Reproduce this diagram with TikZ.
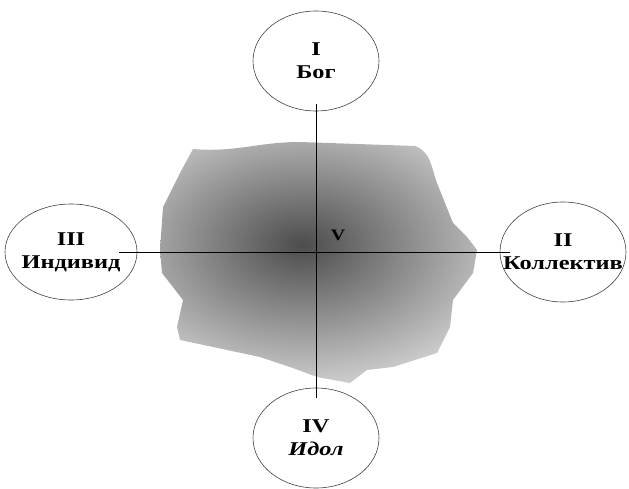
\documentclass[tikz,border=0pt]{standalone}
\usepackage{fontspec}
\setmainfont{Liberation Serif}
\newfontfamily\polefont[FakeStretch=1.25]{Liberation Serif}
\usetikzlibrary{shapes.geometric}
\tikzset{pole/.style={draw=black!75,line width=0.6pt,ellipse,minimum width=126pt,minimum height=100pt,inner xsep=-16pt,inner ysep=0pt,align=center,font=\polefont\bfseries\fontsize{19.5}{23}\selectfont}}

\begin{document}
\begin{tikzpicture}[x=1pt,y=-1pt]
\useasboundingbox (0,0) rectangle (629,489);
% shaded field
\begin{scope}
\clip (193,149) to[out=-5,in=180] (300,142) -- (415,146) to[out=-20,in=110] (437,183) -- (453,223) -- (467,237) -- (477,250) -- (473,273) -- (453,300) -- (450,327) -- (437,353) -- (393,367) -- (367,370) -- (350,383) -- (317,377) -- (290,367) -- (260,357) -- (213,347) -- (180,340) -- (177,327) -- (183,300) -- (162,273) -- (160,250) -- (163,207) -- (180,173) -- cycle;
\shade[inner color=black!70,outer color=black!16] (302,245) ellipse (230 and 150);
\end{scope}
% poles
\node[pole] (god) at (316,61) {I\\Бог};
\node[pole] (coll) at (563,252) {II\\Коллектив};
\node[pole,minimum width=132pt,minimum height=96pt] (ind) at (71,252) {III\\Индивид};
\node[pole] (idol) at (316,438) {IV\\{\itshape Идол}};
\node[font=\polefont\bfseries\fontsize{16}{18}\selectfont] (v) at (338,235) {V};
% axes
\draw[line width=0.9pt,shorten <=-7pt,shorten >=-10pt] (god) -- (idol);
\draw[line width=0.9pt,shorten <=-18pt,shorten >=-10pt] (ind) -- (coll);
\end{tikzpicture}
\end{document}
